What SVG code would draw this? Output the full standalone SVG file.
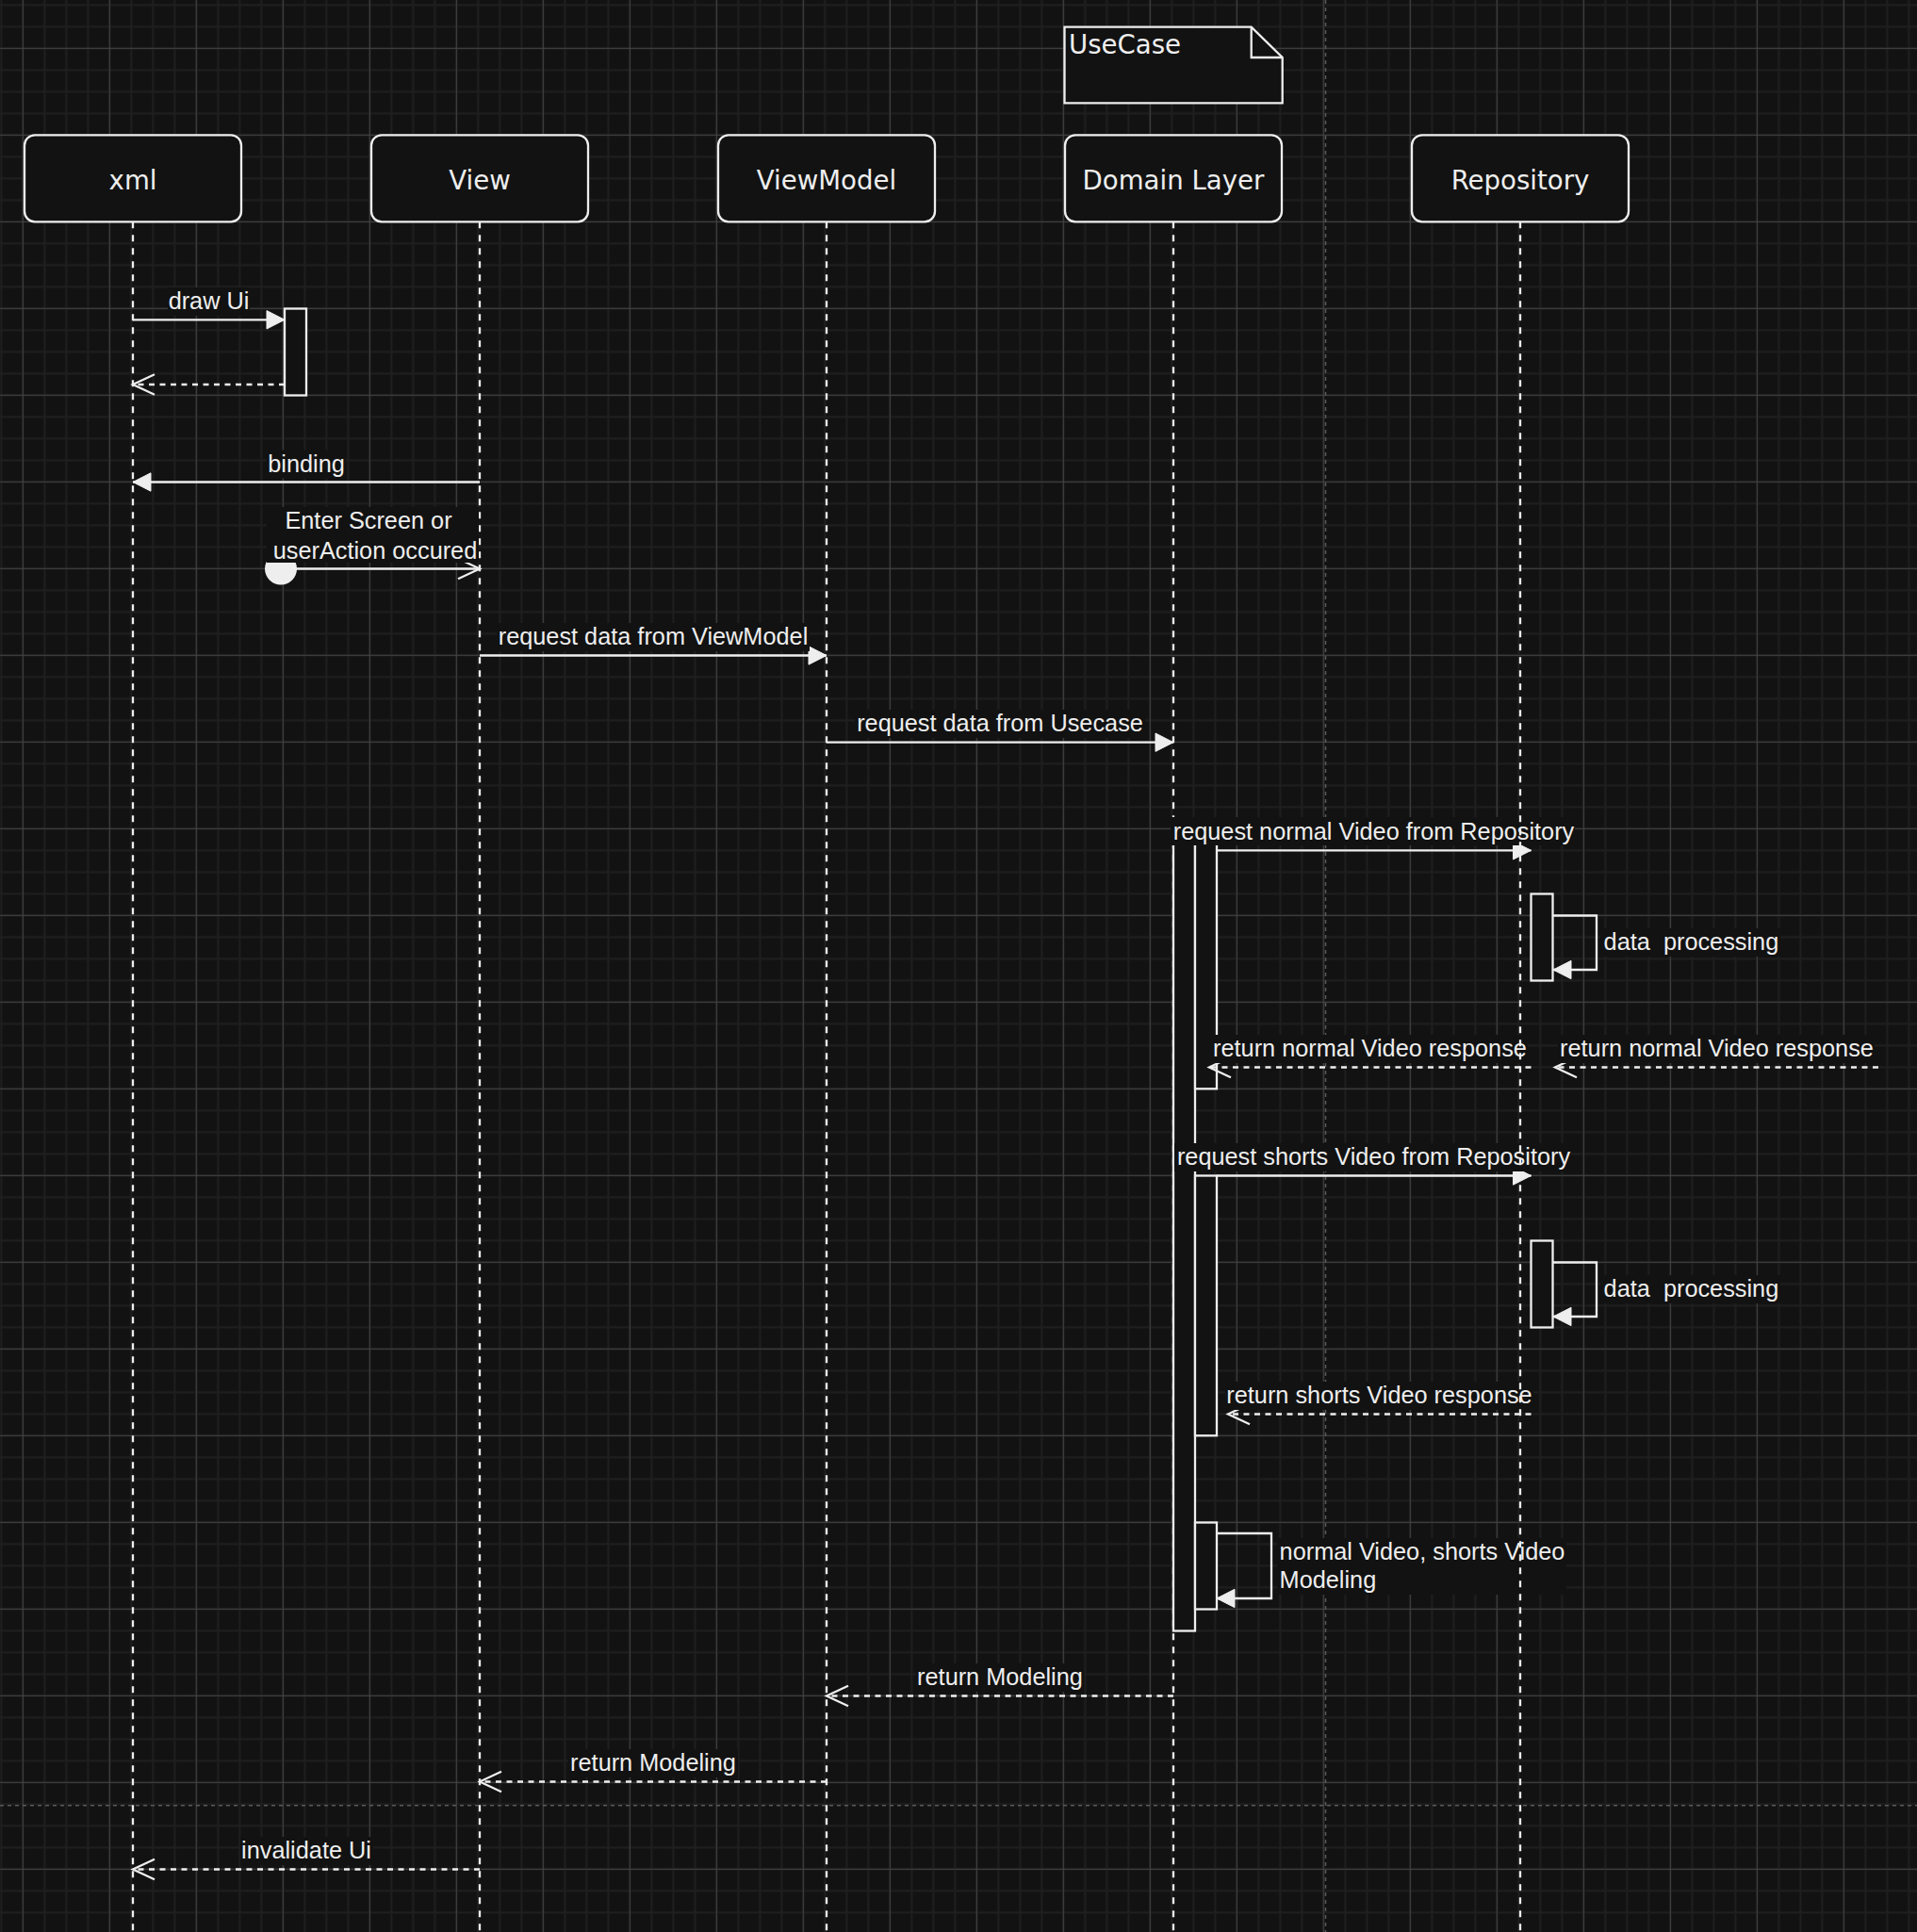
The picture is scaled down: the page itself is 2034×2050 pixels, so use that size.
<svg xmlns="http://www.w3.org/2000/svg" width="2034" height="2050" viewBox="0 0 2034 2050">
<defs>
<style>
.box{fill:#121212;stroke:#eeeeee;stroke-width:2.3}
.life{fill:none;stroke:#eeeeee;stroke-width:2.3;stroke-dasharray:7 7}
.bar{fill:#121212;stroke:#eeeeee;stroke-width:2.3}
.msg{fill:none;stroke:#eeeeee;stroke-width:2.3}
.ret{fill:none;stroke:#eeeeee;stroke-width:2.3;stroke-dasharray:6 5.5}
.lbl{font-family:"Liberation Sans",Arial,Helvetica,sans-serif;font-size:25.3px;fill:#eeeeee}
.c{text-anchor:middle}
.lbg{fill:#121212}
.title{font-family:"DejaVu Sans",Verdana,sans-serif;font-size:27.6px;fill:#eeeeee;text-anchor:middle}
.pb{fill:none;stroke:#5a5a5a;stroke-width:1.5;stroke-dasharray:4 4}
</style>
<pattern id="grid" patternUnits="userSpaceOnUse" x="-33.2" y="-6.2" width="92" height="92">
<rect width="92" height="92" fill="#121212"/>
<path d="M11.5,0V92M34.5,0V92M57.5,0V92M80.5,0V92M0,11.5H92M0,34.5H92M0,57.5H92M0,80.5H92" stroke="#1f1f1f" stroke-width="2" fill="none"/>
<path d="M57.5,0V92M0,57.5H92" stroke="#444444" stroke-width="1" fill="none"/>
</pattern>
<marker id="block" markerUnits="userSpaceOnUse" viewBox="-21 -12 24 24" refX="0" refY="0" markerWidth="24" markerHeight="24" orient="auto">
<path d="M-19,-9.7L0,0L-19,9.7Z" fill="#eeeeee" stroke="#eeeeee" stroke-width="1" stroke-dasharray="none"/>
</marker>
<marker id="open" markerUnits="userSpaceOnUse" viewBox="-26 -14 30 28" refX="0" refY="0" markerWidth="30" markerHeight="28" orient="auto">
<path d="M-23,-10.7L0,0L-23,10.7" fill="none" stroke="#eeeeee" stroke-width="2.3" stroke-dasharray="none"/>
</marker>
<marker id="oval" markerUnits="userSpaceOnUse" viewBox="-18 -18 36 36" refX="0" refY="0" markerWidth="36" markerHeight="36" orient="auto">
<circle cx="0" cy="0" r="17" fill="#eeeeee"/>
</marker>
</defs>

<rect x="0" y="0" width="2034" height="2050" fill="url(#grid)"/>
<g id="page-breaks">
<path class="pb" d="M1406.5,0V2050"/>
<path class="pb" d="M0,1915.7H2034"/>
</g>

<g id="node-xml">
<path class="life" d="M141,235.3V2050"/>
<rect class="box" x="26" y="143.3" width="230" height="92" rx="11"/>
<text class="title" x="141" y="201">xml</text>
</g>
<g id="node-view">
<path class="life" d="M509,235.3V2050"/>
<rect class="box" x="394" y="143.3" width="230" height="92" rx="11"/>
<text class="title" x="509" y="201">View</text>
</g>
<g id="node-viewmodel">
<path class="life" d="M877,235.3V2050"/>
<rect class="box" x="762" y="143.3" width="230" height="92" rx="11"/>
<text class="title" x="877" y="201">ViewModel</text>
</g>
<g id="node-domain">
<path class="life" d="M1245,235.3V2050"/>
<rect class="box" x="1130" y="143.3" width="230" height="92" rx="11"/>
<text class="title" x="1245" y="201">Domain Layer</text>
</g>
<g id="node-usecase-note">
<path class="box" d="M1129.5,28.7H1327.7L1360.7,61V109.3H1129.5Z"/>
<path class="msg" d="M1327.7,28.7V61H1360.7"/>
<text class="title" x="1134" y="57.2" style="text-anchor:start">UseCase</text>
</g>

<g id="bar-xml-draw">
<rect class="bar" x="302" y="327.5" width="23" height="92"/>
</g>
<g id="bar-domain-main">
<rect class="bar" x="1245" y="890" width="23" height="840.5"/>
</g>
<g id="bar-domain-normal">
<rect class="bar" x="1268" y="895" width="23" height="260.3"/>
</g>
<g id="bar-domain-shorts">
<rect class="bar" x="1268" y="1247.5" width="23" height="275.8"/>
</g>
<g id="bar-domain-modeling">
<rect class="bar" x="1268" y="1615.5" width="23" height="92"/>
</g>
<g id="bar-repo-normal">
<rect class="bar" x="1624.5" y="948.5" width="23" height="92"/>
</g>
<g id="bar-repo-shorts">
<rect class="bar" x="1624.5" y="1316.5" width="23" height="92"/>
</g>

<g id="connectors">
<path class="msg" d="M141,339.3H302" marker-end="url(#block)"/>
<path class="ret" d="M302,408H141" marker-end="url(#open)"/>
<path class="msg" d="M509,511.5H141" marker-end="url(#block)"/>
<path class="msg" d="M298,603.5H509" marker-start="url(#oval)" marker-end="url(#open)"/>
<path class="msg" d="M509,695.5H877" marker-end="url(#block)"/>
<path class="msg" d="M877,787.7H1245" marker-end="url(#block)"/>
<path class="msg" d="M1291,902.3H1624.5" marker-end="url(#block)"/>
<path class="msg" d="M1647.5,971.5H1694V1029H1648" marker-end="url(#block)"/>
<path class="ret" d="M1624.5,1132.5H1283" marker-end="url(#open)"/>
<path class="ret" d="M1993,1132.5H1650" marker-end="url(#open)"/>
<path class="msg" d="M1291,1247.5H1624.5" marker-end="url(#block)"/>
<path class="msg" d="M1647.5,1339.5H1694V1397H1648" marker-end="url(#block)"/>
<path class="ret" d="M1624.5,1500.5H1303" marker-end="url(#open)"/>
<path class="msg" d="M1291,1627H1349V1696H1291" marker-end="url(#block)"/>
<path class="ret" d="M1245,1799.5H877" marker-end="url(#open)"/>
<path class="ret" d="M877,1890.5H509" marker-end="url(#open)"/>
<path class="ret" d="M509,1983.5H141" marker-end="url(#open)"/>

<rect class="lbg" x="178" y="305" width="87" height="30"/>
<text class="lbl c" x="221.5" y="328">draw Ui</text>
<rect class="lbg" x="283" y="477.5" width="84" height="30"/>
<text class="lbl c" x="325" y="500.5">binding</text>
<rect class="lbg" x="283" y="538" width="225" height="59"/>
<text class="lbl c" x="391" y="561">Enter Screen or</text>
<text class="lbl c" x="398" y="593">userAction occured</text>
<rect class="lbg" x="527" y="661" width="332" height="30"/>
<text class="lbl c" x="693" y="684">request data from ViewModel</text>
<rect class="lbg" x="907" y="753" width="308" height="30"/>
<text class="lbl c" x="1061" y="776">request data from Usecase</text>
<rect class="lbg" x="1242" y="867" width="429" height="30"/>
<text class="lbl c" x="1457.5" y="891">request normal Video from Repository</text>
<rect class="lbg" x="1698" y="985" width="191" height="30"/>
<text class="lbl" x="1701.6" y="1008" xml:space="preserve">data  processing</text>
<rect class="lbg" x="1285" y="1098" width="336" height="30"/>
<text class="lbl c" x="1453.5" y="1121">return normal Video response</text>
<rect class="lbg" x="1653" y="1098" width="336" height="30"/>
<text class="lbl c" x="1821.5" y="1121">return normal Video response</text>
<rect class="lbg" x="1246" y="1213" width="421" height="30"/>
<text class="lbl c" x="1457.5" y="1236">request shorts Video from Repository</text>
<rect class="lbg" x="1698" y="1353" width="191" height="30"/>
<text class="lbl" x="1701.6" y="1376" xml:space="preserve">data  processing</text>
<rect class="lbg" x="1300" y="1466" width="327" height="30"/>
<text class="lbl c" x="1463.5" y="1489">return shorts Video response</text>
<rect class="lbg" x="1355" y="1632" width="307" height="60"/>
<text class="lbl" x="1357.6" y="1655">normal Video, shorts Video</text>
<text class="lbl" x="1357.6" y="1685">Modeling</text>
<rect class="lbg" x="972" y="1765" width="178" height="30"/>
<text class="lbl c" x="1061" y="1788">return Modeling</text>
<rect class="lbg" x="603" y="1856" width="180" height="30"/>
<text class="lbl c" x="693" y="1879">return Modeling</text>
<rect class="lbg" x="255" y="1949" width="141" height="30"/>
<text class="lbl c" x="325" y="1972">invalidate Ui</text>
</g>

<g id="node-repository">
<path class="life" d="M1613,235.3V2050"/>
<rect class="box" x="1498" y="143.3" width="230" height="92" rx="11"/>
<text class="title" x="1613" y="201">Repository</text>
</g>
</svg>
